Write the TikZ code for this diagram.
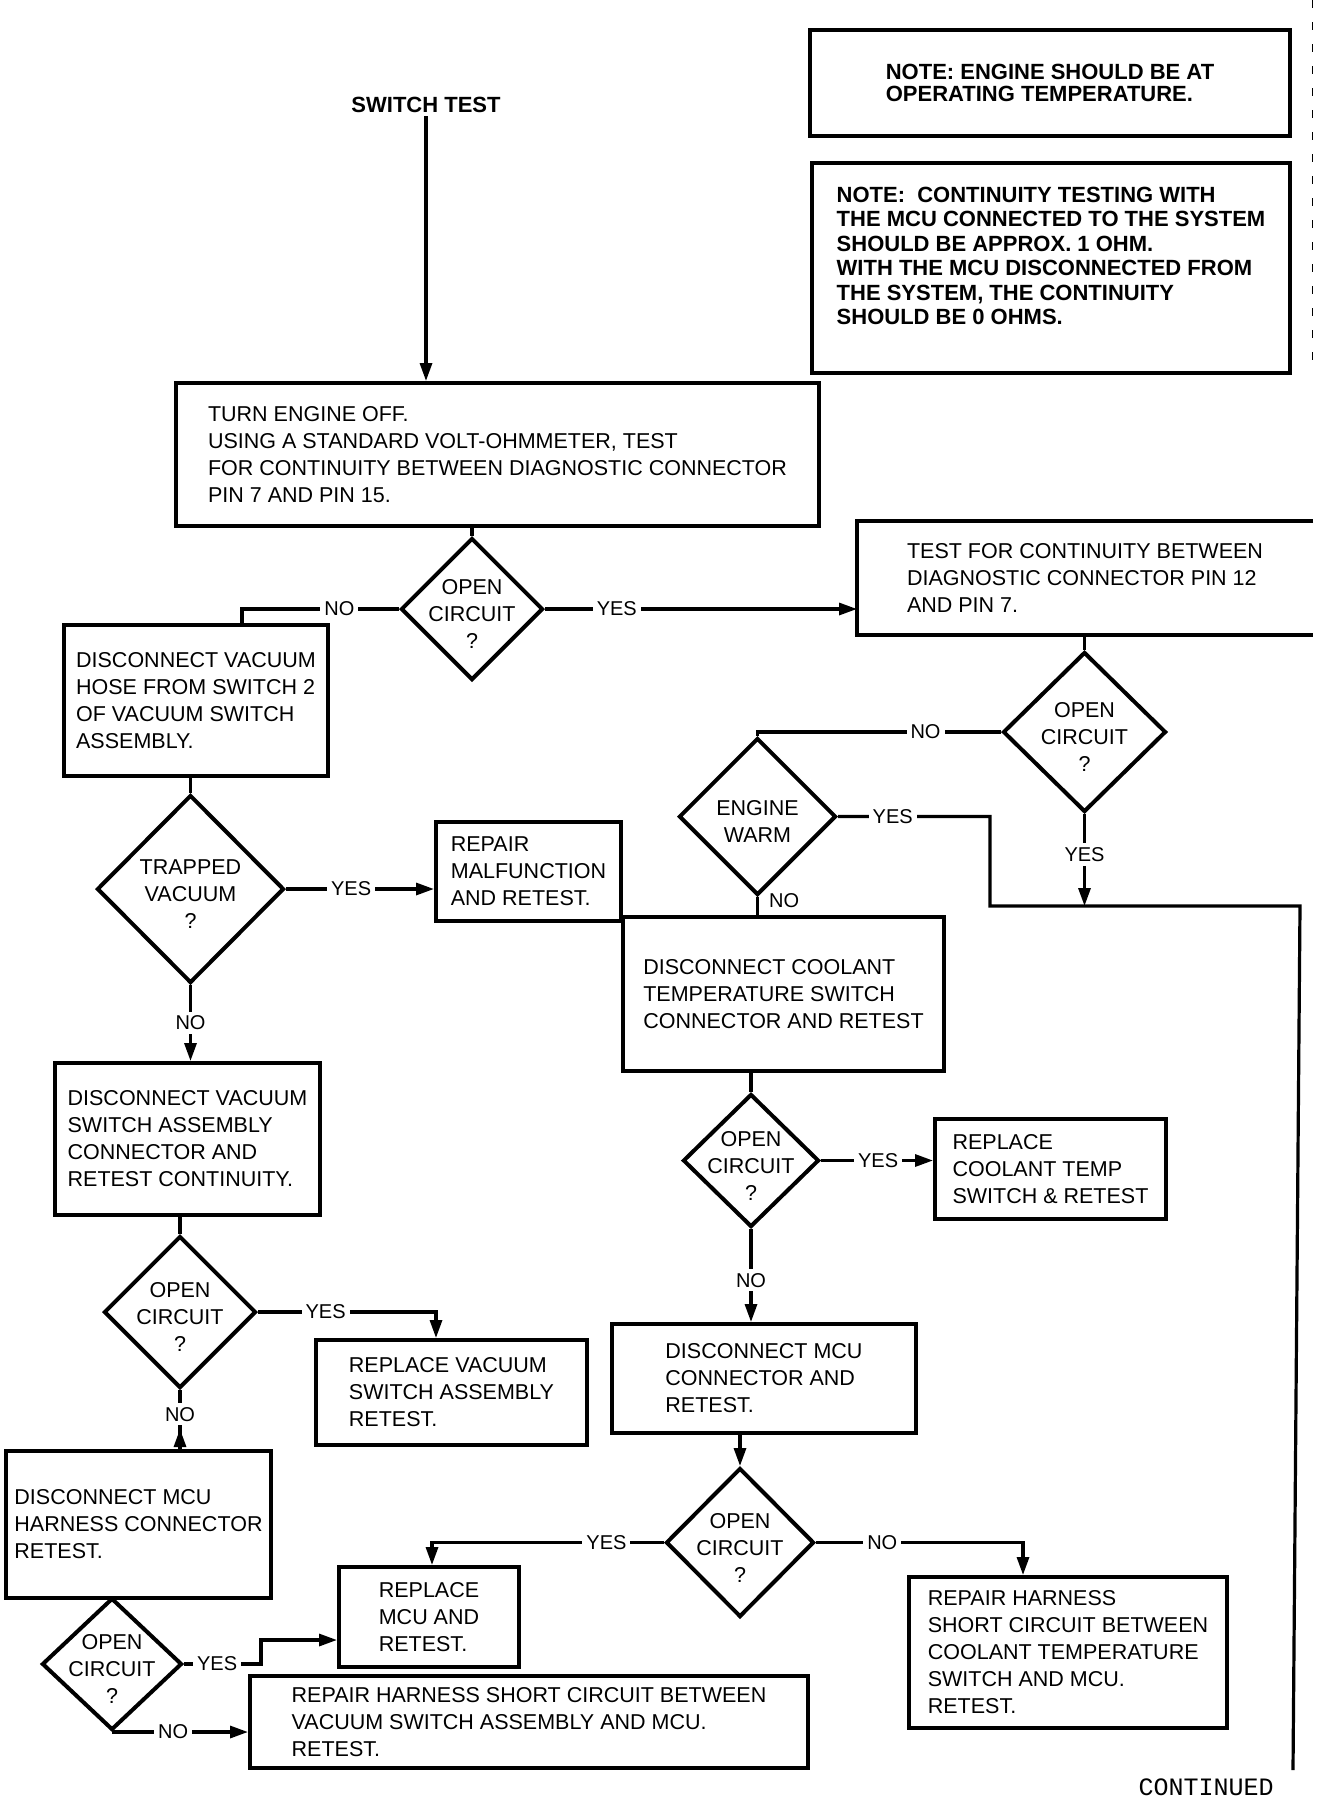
\documentclass[tikz,border=0pt]{standalone}
\usepackage{fontspec}
\setmainfont{Liberation Sans}
\newfontfamily\contfont{Liberation Mono}
\usetikzlibrary{shapes.geometric,arrows.meta}
\tikzset{
	boxline/.style={line width=4pt},
	box/.style={draw, boxline, rectangle, align=left, inner sep=0pt, font=\fontsize{21.5}{27}\selectfont},
	note/.style={box, font=\bfseries\fontsize{22}{#1}\selectfont},
	dia/.style={draw, boxline, diamond, inner sep=0pt, label={[align=center, inner sep=0pt, yshift=-5pt, font=\fontsize{21.5}{27}\selectfont]center:#1}},
	wire/.style={line width=3.2pt},
	arr/.style={wire, -{Triangle[length=18pt,width=12pt]}},
	lab/.style={fill=white, inner sep=4pt, font=\fontsize{20}{24}\selectfont}
}
\begin{document}
\begin{tikzpicture}[x=1pt, y=-1pt]
	\useasboundingbox (0,0) rectangle (1328,1802);
	\node[font=\bfseries\fontsize{22}{27}\selectfont] (title) at (426,105) {SWITCH TEST};
	\node[note=22, minimum width=480pt, minimum height=106pt] (note1) at (1050,83) {NOTE: ENGINE SHOULD BE AT\\OPERATING TEMPERATURE.};
	\node[note=24.5, minimum width=478pt, minimum height=210pt] (note2) at (1051,268) {NOTE:\ \ CONTINUITY TESTING WITH\\THE MCU CONNECTED TO THE SYSTEM\\SHOULD BE APPROX. 1 OHM.\\WITH THE MCU DISCONNECTED FROM\\THE SYSTEM, THE CONTINUITY\\SHOULD BE 0 OHMS.\\~};
	\draw[dash pattern=on 8pt off 14pt, line width=1pt] (1312,0) -- (1312,373);
	\node[box, minimum width=643pt, minimum height=143pt] (turnoff) at (497.5,454.5) {TURN ENGINE OFF.\\USING A STANDARD VOLT-OHMMETER, TEST\\FOR CONTINUITY BETWEEN DIAGNOSTIC CONNECTOR\\PIN 7 AND PIN 15.};
	\node[dia={OPEN\\CIRCUIT\\?}, minimum width=142pt, minimum height=142pt] (open1) at (472,609) {};
	\node[box, draw=none, minimum width=452pt, minimum height=110pt] (pin12) at (1085,578) {TEST FOR CONTINUITY BETWEEN\\DIAGNOSTIC CONNECTOR PIN 12\\AND PIN 7.};
	\draw[boxline] (pin12.north east) -- (pin12.north west) -- (pin12.south west) -- (pin12.south east);
	\node[dia={OPEN\\CIRCUIT\\?}, minimum width=163pt, minimum height=160pt] (open2) at (1084.5,732) {};
	\node[dia={ENGINE\\WARM}, minimum width=157pt, minimum height=157pt] (warm) at (757.5,816.5) {};
	\node[box, minimum width=264pt, minimum height=151pt] (hose) at (196,700.5) {DISCONNECT VACUUM\\HOSE FROM SWITCH 2\\OF VACUUM SWITCH\\ASSEMBLY.};
	\node[dia={TRAPPED\\VACUUM\\?}, minimum width=187pt, minimum height=188pt] (trapped) at (190.5,889) {};
	\node[box, minimum width=185pt, minimum height=99pt] (repair) at (528.5,871.5) {REPAIR\\MALFUNCTION\\AND RETEST.};
	\node[box, minimum width=321pt, minimum height=154pt] (coolant) at (783.5,994) {DISCONNECT COOLANT\\TEMPERATURE SWITCH\\CONNECTOR AND RETEST};
	\node[dia={OPEN\\CIRCUIT\\?}, minimum width=136pt, minimum height=133pt] (open3) at (751,1160.5) {};
	\node[box, minimum width=231pt, minimum height=100pt] (newtemp) at (1050.5,1169) {REPLACE\\COOLANT TEMP\\SWITCH \& RETEST};
	\node[box, minimum width=265pt, minimum height=152pt] (vacconn) at (187.5,1139) {DISCONNECT VACUUM\\SWITCH ASSEMBLY\\CONNECTOR AND\\RETEST CONTINUITY.};
	\node[dia={OPEN\\CIRCUIT\\?}, minimum width=152pt, minimum height=152pt] (open5) at (180,1312) {};
	\node[box, minimum width=271pt, minimum height=105pt] (newvac) at (451.5,1392.5) {REPLACE VACUUM\\SWITCH ASSEMBLY\\RETEST.};
	\node[box, minimum width=304pt, minimum height=109pt] (mcuconn) at (764,1378.5) {DISCONNECT MCU\\CONNECTOR AND\\RETEST.};
	\node[dia={OPEN\\CIRCUIT\\?}, minimum width=148pt, minimum height=149pt] (open4) at (740,1542.5) {};
	\node[box, minimum width=265pt, minimum height=147pt] (harness) at (138.5,1524.5) {DISCONNECT MCU\\HARNESS CONNECTOR\\RETEST.};
	\node[dia={OPEN\\CIRCUIT\\?}, minimum width=140pt, minimum height=132pt] (open6) at (112,1664) {};
	\node[box, minimum width=180pt, minimum height=100pt] (newmcu) at (429,1617) {REPLACE\\MCU AND\\RETEST.};
	\node[box, minimum width=558pt, minimum height=92pt] (vacshort) at (529,1722) {REPAIR HARNESS SHORT CIRCUIT BETWEEN\\VACUUM SWITCH ASSEMBLY AND MCU.\\RETEST.};
	\node[box, minimum width=318pt, minimum height=151pt] (tempshort) at (1068,1652.5) {REPAIR HARNESS\\SHORT CIRCUIT BETWEEN\\COOLANT TEMPERATURE\\SWITCH AND MCU.\\RETEST.};
	\node[font=\contfont\fontsize{25}{25}\selectfont, inner sep=0pt] (cont) at (1206,1787) {CONTINUED};
	\coordinate (hot) at (990,906);
	\coordinate (rtop) at (1300,906);
	\coordinate (rbot) at (1293,1770);
	\coordinate (bend) at (261,1640);
	\draw[arr] (title.south) -- (title.south |- turnoff.north);
	\draw[wire] (open1.north |- turnoff.south) -- (open1.north);
	\draw[wire] (open1.west) -| ([xshift=46pt]hose.north) node[lab, pos=0.19] {NO};
	\draw[arr] (open1.east) -- (open1.east -| pin12.west) node[lab, pos=0.23] {YES};
	\draw[wire] (open2.north |- pin12.south) -- (open2.north);
	\draw[wire] (open2.west) -| (warm.north) node[lab, pos=0.155] {NO};
	\draw[wire] (warm.east) -| (hot) node[lab, pos=0.18] {YES} -- (rtop) -- (rbot);
	\draw[arr] (open2.south) -- (open2.south |- hot) node[lab, pos=0.44] {YES};
	\draw[wire] (warm.south) -- (warm.south |- coolant.north) node[lab, fill=none, pos=0.2, right, xshift=6pt] {NO};
	\draw[wire] (trapped.north |- hose.south) -- (trapped.north);
	\draw[arr] (trapped.east) -- (trapped.east -| repair.west) node[lab, pos=0.44] {YES};
	\draw[arr] (trapped.south) -- (trapped.south |- vacconn.north) node[lab, pos=0.5] {NO};
	\draw[wire] (open3.north |- coolant.south) -- (open3.north);
	\draw[arr] (open3.east) -- (open3.east -| newtemp.west) node[lab, pos=0.51] {YES};
	\draw[arr] (open3.south) -- (open3.south |- mcuconn.north) node[lab, pos=0.55] {NO};
	\draw[arr] (open4.north |- mcuconn.south) -- (open4.north);
	\draw[arr] (open4.east) -| ([xshift=-45pt]tempshort.north) node[lab, pos=0.16] {NO};
	\draw[arr] (open4.west) -| ([xshift=3pt]newmcu.north) node[lab, pos=0.124] {YES};
	\draw[wire] (open5.north |- vacconn.south) -- (open5.north);
	\draw[arr] (open5.east) -| ([xshift=-15.5pt]newvac.north) node[lab, pos=0.19] {YES};
	\draw[wire] (open5.south) -- (open5.south |- harness.north) node[lab, pos=0.41] {NO};
	\draw[arr] (open5.south |- harness.north) -- ++(0,-20);
	\draw[arr] (open6.east) -| (bend) node[lab, pos=0.215] {YES} -- (bend -| newmcu.west);
	\draw[arr] (open6.south) -- (open6.south -| vacshort.west) node[lab, pos=0.45] {NO};
\end{tikzpicture}
\end{document}
